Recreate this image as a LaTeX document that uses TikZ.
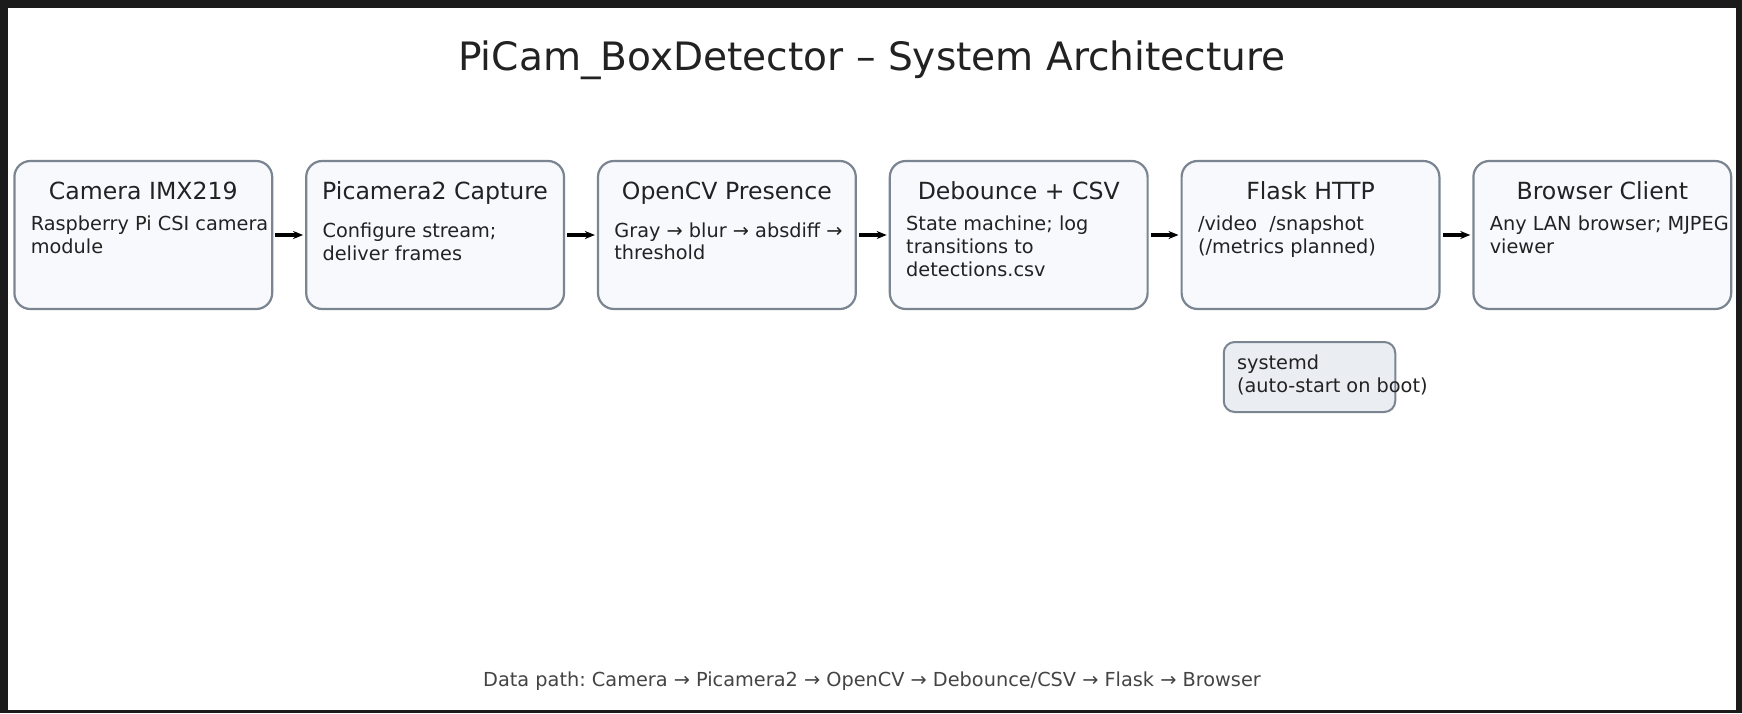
\documentclass[tikz,border=0pt]{standalone}
\usepackage{fontspec}
\setmainfont{DejaVu Sans}
\usetikzlibrary{arrows.meta}
\frenchspacing

\definecolor{framegray}{HTML}{1B1B1B}
\definecolor{boxfill}{HTML}{F7F9FC}
\definecolor{boxline}{HTML}{7A8591}
\definecolor{sysfill}{HTML}{EAEEF3}
\definecolor{inkdark}{HTML}{222222}
\definecolor{inkgray}{HTML}{444444}

\tikzset{
  heading/.style={anchor=base, text=inkdark, inner sep=0pt, font=\fontsize{19.55}{23}\selectfont},
  stagebox/.style={draw=boxline, line width=1.1pt, fill=boxfill, rounded corners=8pt,
    minimum width=128.9pt, minimum height=74pt, inner sep=0pt},
  sysbox/.style={draw=boxline, line width=1pt, fill=sysfill, rounded corners=5.5pt,
    minimum width=85.75pt, minimum height=35pt, inner sep=0pt},
  stagename/.style={anchor=base, text=inkdark, inner sep=0pt, font=\fontsize{11.8}{14}\selectfont},
  stagenote/.style={anchor=base west, align=left, text=inkdark, inner sep=0pt,
    font=\fontsize{9.65}{11.4}\selectfont},
  pathnote/.style={anchor=base, text=inkgray, inner sep=0pt, font=\fontsize{9.65}{11.4}\selectfont},
  flow/.style={line width=1.9pt, -{Stealth[length=5pt,width=4pt]}, shorten <=1pt, shorten >=1pt}
}

\begin{document}
\begin{tikzpicture}[x=0.5pt,y=-0.5pt]
% dark frame round the page
\fill[framegray] (0,0) rectangle (1742,713);
\fill[white] (8,8) rectangle (1736,710);
\useasboundingbox (0,0) rectangle (1742,713);
\node[heading] (ttl) at (872,70) {PiCam\_BoxDetector – System Architecture};
% pipeline stages
\node[stagebox] (cam) at (143.3,235) {};
\node[stagebox] (cap) at (435.1,235) {};
\node[stagebox] (cv) at (726.9,235) {};
\node[stagebox] (deb) at (1018.7,235) {};
\node[stagebox] (web) at (1310.5,235) {};
\node[stagebox] (brw) at (1602.3,235) {};
\node[stagename] (camname) at (143.3,199) {Camera IMX219};
\node[stagename] (capname) at (435.1,199) {Picamera2 Capture};
\node[stagename] (cvname) at (726.9,199) {OpenCV Presence};
\node[stagename] (debname) at (1018.7,199) {Debounce + CSV};
\node[stagename] (webname) at (1310.5,199) {Flask HTTP};
\node[stagename] (brwname) at (1602.3,199) {Browser Client};
% notes sit on the baseline of their last line
\node[stagenote] (camnote) at (30.4,253.5) {Raspberry Pi CSI camera\\module};
\node[stagenote] (capnote) at (322.2,260.1) {Configure stream;\\deliver frames};
\node[stagenote] (cvnote) at (614,259.8) {Gray → blur → absdiff →\\threshold};
\node[stagenote] (debnote) at (905.8,276.3) {State machine; log\\transitions to\\detections.csv};
\node[stagenote] (webnote) at (1197.6,253.5) {/video\ \ /snapshot\\(/metrics planned)};
\node[stagenote] (brwnote) at (1489.4,253.5) {Any LAN browser; MJPEG\\viewer};
% connectors
\draw[flow] (cam.east) -- (cap.west);
\draw[flow] (cap.east) -- (cv.west);
\draw[flow] (cv.east) -- (deb.west);
\draw[flow] (deb.east) -- (web.west);
\draw[flow] (web.east) -- (brw.west);
% service box under Flask
\node[sysbox] (sysd) at (1309.5,377) {};
\node[stagenote] (sysnote) at (1236.7,392.1) {systemd\\(auto-start on boot)};
\node[pathnote] (path) at (872,686) {Data path: Camera → Picamera2 → OpenCV → Debounce/CSV → Flask → Browser};
\end{tikzpicture}
\end{document}
